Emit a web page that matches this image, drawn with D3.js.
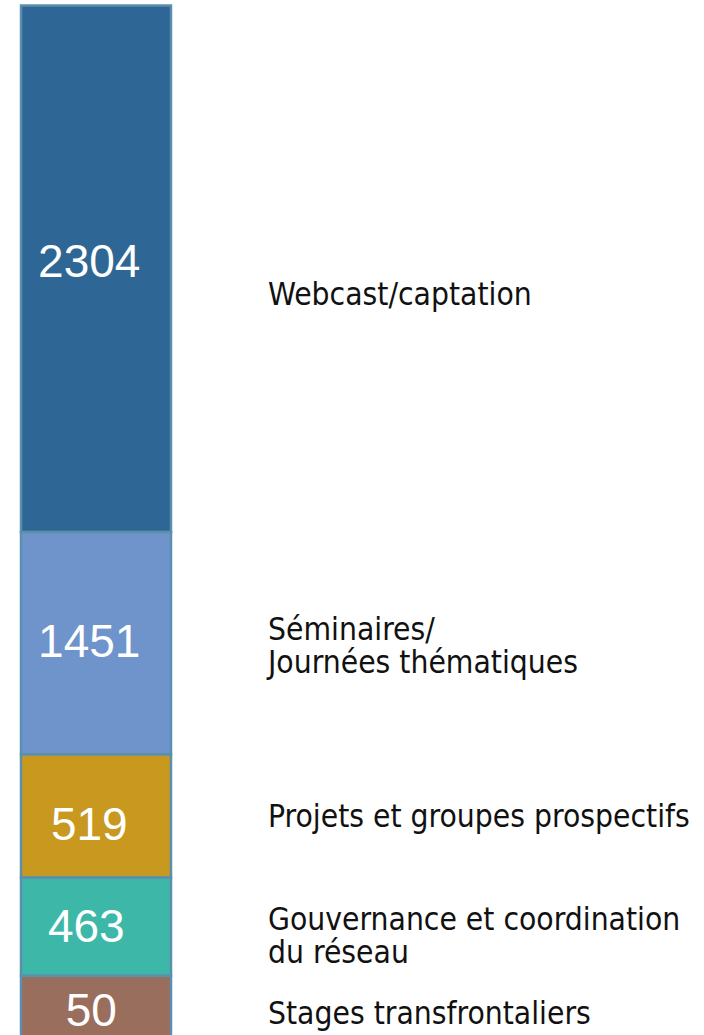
<!DOCTYPE html>
<html>
<head>
<meta charset="utf-8">
<script src="https://cdn.jsdelivr.net/npm/d3@7"></script>
<style>
  html, body { margin: 0; padding: 0; background: #fff; }
  svg { display: block; }
  .num { font-family: "Liberation Sans", Arial, sans-serif; fill: #fff; }
  .lbl { font-family: "DejaVu Sans Condensed", "DejaVu Sans", sans-serif; fill: #111; }
</style>
</head>
<body>
<div id="chart"></div>
<script>
// data
const categories = [
    ["Webcast/captation"],
    ["Séminaires/", "Journées thématiques"],
    ["Projets et groupes prospectifs"],
    ["Gouvernance et coordination", "du réseau"],
    ["Stages transfrontaliers"]
];
const values = [2304, 1451, 519, 463, 50];
// share of the bar height given to each block (%), as drawn
const shares = [50.9, 21.5, 11.9, 9.5, 6.2];
const colors = ["#2e6795", "#6f93cb", "#c8981f", "#3db8a8", "#9a6e5c"];

const width = 704;
const height = 1035;

const svg = d3.select("#chart").append("svg")
    .attr("width", width)
    .attr("height", height);

const xScale = d3.scaleBand()
    .domain(["total"])
    .range([21, 171])
    .padding(0);

// bar runs past the bottom of the frame, as in the picture
const yScale = d3.scaleLinear()
    .domain([0, d3.sum(shares)])
    .range([5.5, 1040]);

const ends = d3.cumsum(shares);
const rows = values.map((v, i) => ({
    value: v,
    label: categories[i],
    color: colors[i],
    y0: ends[i] - shares[i],
    y1: ends[i]
}));

const bar = svg.append("g").attr("class", "bar");

bar.selectAll("rect")
    .data(rows)
    .enter()
    .append("rect")
    .attr("x", xScale("total"))
    .attr("width", xScale.bandwidth())
    .attr("y", d => yScale(d.y0))
    .attr("height", d => yScale(d.y1) - yScale(d.y0))
    .style("fill", d => d.color)
    .style("stroke", "#5a8fae")
    .style("stroke-width", 2.5);

// value inside each block (small nudges seen in the picture)
const numShift = [-8, -3, 7, -1, 2];
const numDx = [0, 0, 0, -3, 2];
bar.selectAll("text")
    .data(rows)
    .enter()
    .append("text")
    .attr("class", "num")
    .attr("x", (d, i) => xScale("total") + xScale.bandwidth() * 0.455 + numDx[i])
    .attr("y", (d, i) => yScale((d.y0 + d.y1) / 2) + numShift[i])
    .attr("dy", "0.36em")
    .attr("text-anchor", "middle")
    .style("font-size", "46px")
    .text(d => d.value);

// category names to the right
const lineH = 33;
const shiftY = [25, 2, 0, 8, 5];
const labels = svg.append("g").attr("class", "labels");

labels.selectAll("text")
    .data(rows)
    .enter()
    .append("text")
    .attr("class", "lbl")
    .style("font-size", "31.5px")
    .attr("transform", (d, i) => {
        const mid = yScale((d.y0 + d.y1) / 2) + shiftY[i];
        const top = mid - (d.label.length - 1) * lineH / 2;
        return "translate(268," + top + ")";
    })
    .each(function(d) {
        d3.select(this).selectAll("tspan")
            .data(d.label)
            .enter()
            .append("tspan")
            .attr("x", 0)
            .attr("y", (t, j) => j * lineH)
            .attr("dy", "0.36em")
            .text(t => t);
    });
</script>
</body>
</html>
